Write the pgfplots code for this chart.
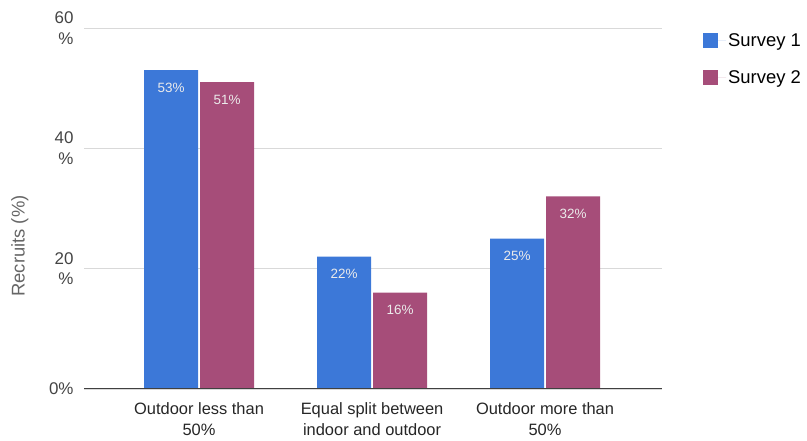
\documentclass[border=0pt]{standalone}
\usepackage{pgfplots}
\pgfplotsset{compat=1.18}
\usepackage{fontspec}
\setmainfont{Liberation Sans}

\definecolor{surveyA}{HTML}{3C78D8}
\definecolor{surveyB}{HTML}{A64D79}
\definecolor{gridgray}{HTML}{D9D9D9}
\definecolor{ticktext}{HTML}{444444}
\definecolor{labeltext}{HTML}{666666}

\pgfplotstableread{
x s1 s2
0 53 51
1 22 16
2 25 32
}\recruits

\begin{document}
\begin{tikzpicture}
\path[use as bounding box] (0,0) rectangle (807bp,441bp);
\begin{axis}[
  /pgf/number format/assume math mode=true,
  at={(84bp,52bp)}, anchor=south west,
  scale only axis, width=578bp, height=361bp,
  xmin=-0.665, xmax=2.676,
  ymin=0, ymax=60,
  ytick={0,20,40,60},
  yticklabels={0\%,20\\\%,40\\\%,60\\\%},
  yticklabel style={align=right, font=\fontsize{17}{21}\selectfont, text=ticktext, xshift=-7bp},
  xtick=data,
  xticklabels={Outdoor less than\\50\%, Equal split between\\indoor and outdoor, Outdoor more than\\50\%},
  xticklabel style={align=center, font=\fontsize{16.5}{21}\selectfont, text=black!85, yshift=-10bp},
  major tick length=0pt,
  ymajorgrids, grid style={gridgray, line width=1bp},
  axis line style={draw=none},
  ylabel={Recruits (\%)},
  ylabel style={at={(axis description cs:-0.111,0.396)}, anchor=center, font=\fontsize{18.5}{18.5}\selectfont, text=labeltext},
  ybar, bar width=54bp,
  nodes near coords={\pgfmathprintnumber{\pgfplotspointmeta}\%},
  every node near coord/.append style={anchor=north, yshift=-9bp, font=\fontsize{13.5}{13.5}\selectfont, text=white!92!black},
  legend style={draw=none, fill=none, at={(1,1)}, anchor=north west, xshift=41bp, yshift=-3bp,
    font=\fontsize{18.5}{18.5}\selectfont, row sep=19bp, inner sep=0pt},
  legend cell align=left,
  legend image code/.code={\fill[#1] (0bp,-7.5bp) rectangle (15bp,7.5bp); \path (0bp,0bp) -- (23bp,0bp);},
]
\addplot[fill=surveyA, draw=none, bar shift=-28bp] table[x=x, y=s1] {\recruits};
\addplot[fill=surveyB, draw=none, bar shift=28bp] table[x=x, y=s2] {\recruits};
\legend{Survey 1, Survey 2}
\draw[black!75, line width=1.2bp] (rel axis cs:0,0) -- (rel axis cs:1,0);
\end{axis}
\end{tikzpicture}
\end{document}
